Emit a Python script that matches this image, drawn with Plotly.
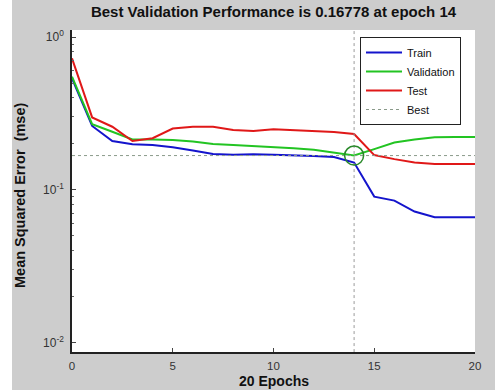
import plotly.graph_objects as go

epochs = list(range(21))
train = [0.537, 0.262, 0.209, 0.199, 0.197, 0.190, 0.181, 0.172, 0.170, 0.171, 0.170,
         0.169, 0.167, 0.164, 0.151, 0.0904, 0.0851, 0.0722, 0.0663, 0.0663, 0.0663]
validation = [0.550, 0.269, 0.240, 0.214, 0.214, 0.212, 0.207, 0.200, 0.197, 0.194, 0.192,
              0.187, 0.183, 0.176, 0.16778, 0.185, 0.204, 0.214, 0.221, 0.222, 0.222]
test = [0.726, 0.298, 0.259, 0.209, 0.218, 0.252, 0.259, 0.259, 0.247, 0.243, 0.249,
        0.245, 0.243, 0.239, 0.232, 0.169, 0.159, 0.151, 0.148, 0.148, 0.148]
best_epoch = 14
best_value = 0.16778
x_ticks = [0, 5, 10, 15, 20]
y_ticks = [1, 0.1, 0.01]
y_tick_labels = ["10<sup>0</sup>", "10<sup>-1</sup>", "10<sup>-2</sup>"]
y_minor = [0.02, 0.03, 0.04, 0.05, 0.06, 0.07, 0.08, 0.09,
           0.2, 0.3, 0.4, 0.5, 0.6, 0.7, 0.8, 0.9]

W, H = 495, 390
L, R, T, B = 72, 20, 30, 38
pw = W - L - R
ph = H - T - B

fig = go.Figure()
fig.add_trace(go.Scatter(x=epochs, y=train, mode="lines", name="Train",
                         line=dict(color="#1414cc", width=2)))
fig.add_trace(go.Scatter(x=epochs, y=validation, mode="lines", name="Validation",
                         line=dict(color="#22c422", width=2)))
fig.add_trace(go.Scatter(x=epochs, y=test, mode="lines", name="Test",
                         line=dict(color="#e01818", width=2)))
fig.add_trace(go.Scatter(x=[0, 20], y=[best_value, best_value], mode="lines", name="Best",
                         line=dict(color="#8a9a8a", width=1, dash="dot")))
fig.add_trace(go.Scatter(x=[best_epoch, best_epoch], y=[0.0087, 1.11], mode="lines",
                         showlegend=False, line=dict(color="#9a9a9a", width=1, dash="dot")))
fig.add_trace(go.Scatter(x=[best_epoch], y=[best_value], mode="markers", showlegend=False,
                         marker=dict(symbol="circle-open", size=19, color="#2a8a2a",
                                     line=dict(color="#2a8a2a", width=1.5))))

# white strip at left of figure
fig.add_shape(type="rect", xref="paper", yref="paper",
              x0=(0 - L) / pw, x1=(12 - L) / pw, y0=-B / ph, y1=(H - B) / ph,
              fillcolor="white", line=dict(width=0), layer="above")

# axis titles as annotations for exact placement
fig.add_annotation(text="<b>20 Epochs</b>", xref="paper", yref="paper",
                   x=0.5, y=(ph - (381 - T)) / ph, xanchor="center", yanchor="middle",
                   showarrow=False, font=dict(size=14, color="#111"))
fig.add_annotation(text="<b>Mean Squared Error  (mse)</b>", xref="paper", yref="paper",
                   x=(20 - L) / pw, y=(ph - (195 - T)) / ph, xanchor="center", yanchor="middle",
                   textangle=-90, showarrow=False, font=dict(size=14.5, color="#111"))

fig.update_layout(
    width=W, height=H,
    margin=dict(l=L, r=R, t=T, b=B),
    paper_bgcolor="#cdcdcd",
    plot_bgcolor="white",
    font=dict(family="Liberation Sans, Arial, sans-serif", color="#222222", size=11),
    title=dict(text="<b>Best Validation Performance is 0.16778 at epoch 14</b>",
               x=0.5, xref="paper", xanchor="center", y=1 - 12 / H, yanchor="middle",
               font=dict(size=15, color="#111111")),
    xaxis=dict(range=[0, 20], tickvals=x_ticks, ticks="inside", ticklen=4,
               tickcolor="#444", showline=True, linecolor="#222", linewidth=1.5,
               showgrid=False, zeroline=False, ticklabelstandoff=2, automargin=False,
               tickfont=dict(size=11.5, color="#333")),
    yaxis=dict(type="log", range=[-2.06, 0.046], tickvals=y_ticks, ticktext=y_tick_labels,
               ticks="inside", ticklen=4, tickcolor="#444", showline=True,
               linecolor="#222", linewidth=1.5, showgrid=False, zeroline=False,
               ticklabelstandoff=4, automargin=False,
               minor=dict(tickvals=y_minor, ticks="inside", ticklen=2, tickcolor="#666"),
               tickfont=dict(size=12, color="#333")),
    legend=dict(x=(360 - L) / pw, y=(H - B - 37) / ph, xanchor="left", yanchor="top",
                bgcolor="white", bordercolor="#222", borderwidth=1,
                font=dict(size=11, color="#111"), tracegroupgap=0, itemwidth=36),
    showlegend=True,
)

fig.write_html("out.html")
